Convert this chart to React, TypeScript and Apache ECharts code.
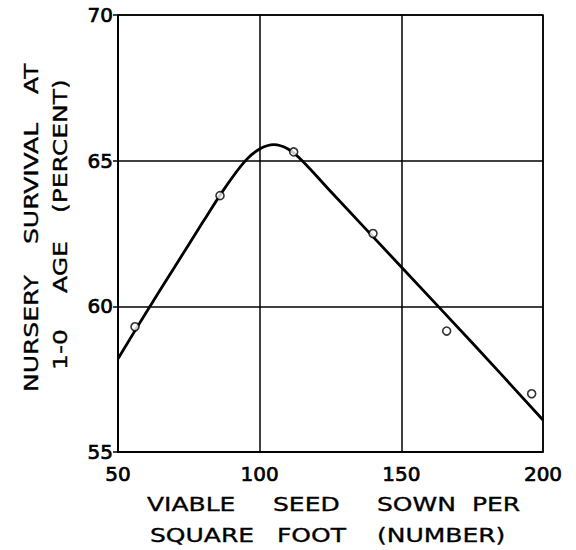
import React, { useEffect, useRef } from "react";
import * as echarts from "echarts";

const curveX = [50, 60, 70, 80, 88, 95, 100, 105, 110, 115, 125, 150, 175, 200];
const curveY = [58.2, 59.8, 61.35, 62.9, 64.1, 65.0, 65.4, 65.55, 65.4, 65.0, 63.95, 61.35, 58.75, 56.1];
const pointX = [56, 86, 112, 140, 166, 196];
const pointY = [59.3, 63.8, 65.3, 62.5, 59.15, 57.0];
const xTicks = [50, 100, 150, 200];
const yTicks = [55, 60, 65, 70];

const FONT = "DejaVu Sans";

function word(text: string, x: number, y: number, vertical = false) {
  return {
    type: "text",
    x,
    y,
    rotation: vertical ? Math.PI / 2 : 0,
    scaleX: 1.25,
    style: {
      text,
      fontFamily: FONT,
      fontSize: 20,
      fill: "#000",
      stroke: "#000",
      lineWidth: 0.35,
      align: "left",
      verticalAlign: "middle",
    },
  };
}

export default function App() {
  const ref = useRef<HTMLDivElement>(null);
  useEffect(() => {
    if (!ref.current) return;
    const chart = echarts.init(ref.current, null, { renderer: "svg" });
    const labelStyle = {
      color: "#000",
      fontFamily: FONT,
      fontSize: 20,
      textBorderColor: "#000",
      textBorderWidth: 0.7,
    };
    chart.setOption({
      animation: false,
      backgroundColor: "#fff",
      grid: { left: 118, right: 33, top: 15, bottom: 98, show: true, borderColor: "#000", borderWidth: 1.5 },
      xAxis: {
        type: "value",
        min: xTicks[0],
        max: xTicks[xTicks.length - 1],
        interval: 50,
        axisLine: { show: true, lineStyle: { color: "#000", width: 1.5 } },
        axisTick: { show: false },
        axisLabel: { ...labelStyle, margin: 12 },
        splitLine: { show: true, lineStyle: { color: "#000", width: 1.5 } },
      },
      yAxis: {
        type: "value",
        min: yTicks[0],
        max: yTicks[yTicks.length - 1],
        interval: 5,
        axisLine: { show: true, lineStyle: { color: "#000", width: 1.5 } },
        axisTick: { show: true, length: 5, lineStyle: { color: "#000", width: 1.5 } },
        axisLabel: { ...labelStyle, margin: 5 },
        splitLine: { show: true, lineStyle: { color: "#000", width: 1.5 } },
      },
      series: [
        {
          type: "line",
          data: curveX.map((x, i) => [x, curveY[i]]),
          smooth: 0.35,
          showSymbol: false,
          lineStyle: { color: "#000", width: 2.8 },
          z: 3,
        },
        {
          type: "scatter",
          data: pointX.map((x, i) => [x, pointY[i]]),
          symbol: "circle",
          symbolSize: 8,
          itemStyle: { color: "#fff", borderColor: "#000", borderWidth: 1.6 },
          z: 4,
        },
      ],
      graphic: [
        word("VIABLE", 147, 504),
        word("SEED", 273, 504),
        word("SOWN", 377, 504),
        word("PER", 472, 504),
        word("SQUARE", 150, 535),
        word("FOOT", 277, 535),
        word("(NUMBER)", 377, 535),
        word("NURSERY", 31, 392, true),
        word("SURVIVAL", 31, 244, true),
        word("AT", 31, 94, true),
        word("1-0", 60, 370, true),
        word("AGE", 60, 293, true),
        word("(PERCENT)", 60, 213, true),
      ],
    });
    return () => chart.dispose();
  }, []);
  return <div ref={ref} style={{ position: "fixed", left: 0, top: 0, width: 576, height: 550 }} />;
}
